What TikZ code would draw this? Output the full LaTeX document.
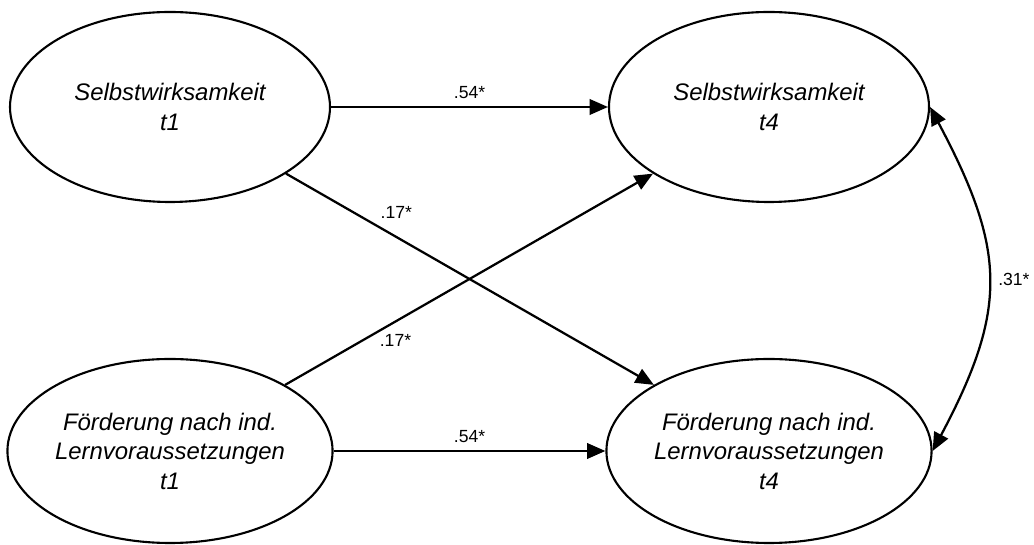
\documentclass[tikz,border=0pt]{standalone}
\usepackage{fontspec}
\setmainfont{Liberation Sans}
\usetikzlibrary{shapes.geometric, arrows.meta}

\tikzset{
    latente/.style={ellipse, draw, line width=1.5pt, inner sep=0pt,
        minimum width=320*0.025cm, align=center,
        font=\itshape\fontsize{17}{21}\selectfont},
    fleche/.style={line width=1.6pt, -{Triangle[length=13pt, width=11pt]}},
    coef/.style={font=\fontsize{12.5}{14}\selectfont}
}

\begin{document}
\begin{tikzpicture}[x=0.025cm, y=0.025cm]
    % Cadre de l'image
    \useasboundingbox (0,0) rectangle (1034,545);

    % Variables latentes
    \node[latente, minimum height=190*0.025cm] (se1) at (170,438) {Selbstwirksamkeit\\t1};
    \node[latente, minimum height=190*0.025cm] (se4) at (769,438) {Selbstwirksamkeit\\t4};
    \node[latente, minimum height=184*0.025cm] (fo1) at (170,94) {Förderung nach ind.\\Lernvoraussetzungen\\t1};
    \node[latente, minimum height=184*0.025cm] (fo4) at (769,94) {Förderung nach ind.\\Lernvoraussetzungen\\t4};

    % Effets de stabilite
    \draw[fleche] (se1) -- node[coef, midway, above=2pt] {.54*} (se4);
    \draw[fleche] (fo1) -- node[coef, midway, above=2pt] {.54*} (fo4);

    % Effets croises
    \draw[fleche] (se1) -- node[coef, pos=0.3, above=9pt] {.17*} (fo4);
    \draw[fleche] (fo1) -- node[coef, pos=0.3, below=5pt] {.17*} (se4);

    % Correlation t4
    \draw[fleche, {Triangle[length=13pt, width=11pt]}-{Triangle[length=13pt, width=11pt]}]
        (se4.east) to[out=-62, in=62, looseness=1.2]
        node[coef, midway, right=3pt] {.31*} (fo4.east);
\end{tikzpicture}
\end{document}
